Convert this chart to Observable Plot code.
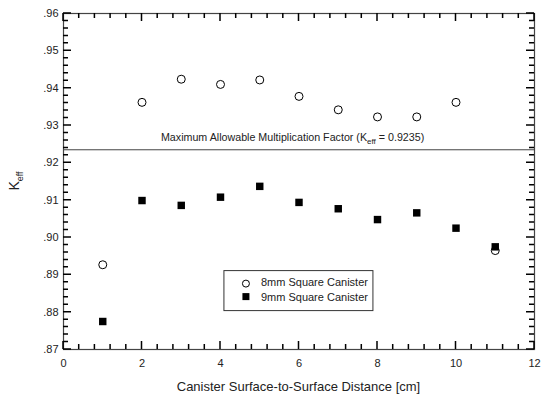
<!DOCTYPE html>
<html><head><meta charset="utf-8">
<script src="https://cdn.jsdelivr.net/npm/d3@7"></script>
<script src="https://cdn.jsdelivr.net/npm/@observablehq/plot@0.6"></script>
<style>body{margin:0;background:#fff;font-family:"Liberation Sans",Arial,sans-serif}</style>
</head><body><div id="chart"></div>
<script>
const distance = [1,2,3,4,5,6,7,8,9,10,11];
const keff8mm = [0.8927,0.9362,0.9424,0.9410,0.9422,0.9378,0.9342,0.9323,0.9323,0.9362,0.8965];
const keff9mm = [0.8775,0.9099,0.9086,0.9108,0.9137,0.9094,0.9077,0.9048,0.9066,0.9025,0.8975];
const seriesNames = ["8mm Square Canister","9mm Square Canister"];
const limitValue = 0.9235;
const xTicks = [0,2,4,6,8,10,12];
const yTicks = [0.87,0.88,0.89,0.90,0.91,0.92,0.93,0.94,0.95,0.96];

const W=545,H=401,mt=13,mb=52,ml=63,mr=11;
const ih=H-mt-mb, iw=W-ml-mr;
const xMinor = d3.range(0,12.0001,0.4).filter(v=>Math.abs(v/2-Math.round(v/2))>1e-6);
const yMinor = d3.range(0.87,0.96001,0.002).filter(v=>Math.abs(v*100-Math.round(v*100))>1e-6);

const d8 = distance.map((x,i)=>({x,y:keff8mm[i]}));
const d9 = distance.map((x,i)=>({x,y:keff9mm[i]}));
const fmtY = d=>d3.format(".2f")(d).replace(/^0/,"");

const plot = Plot.plot({
  width:W,height:H,marginTop:mt,marginBottom:mb,marginLeft:ml,marginRight:mr,
  style:{fontFamily:"Liberation Sans, Arial, sans-serif",fontSize:"11px",color:"#222",background:"#fff"},
  x:{domain:[0,12]},
  y:{domain:[0.87,0.96]},
  marks:[
    Plot.axisX(xTicks,{tickSize:0,tickPadding:10,fontSize:11,label:null}),
    Plot.axisY(yTicks,{tickSize:0,tickPadding:5,fontSize:11,tickFormat:fmtY,label:null}),
    Plot.ruleY([limitValue],{stroke:"#444",strokeWidth:1}),
    Plot.dot(d8,{x:"x",y:"y",r:4,stroke:"#000",fill:"#fff",strokeWidth:1}),
    Plot.dot(d9,{x:"x",y:"y",symbol:"square",r:4.2,fill:"#000",stroke:"none"}),
    Plot.frame({stroke:"#444",strokeWidth:1.2})
  ]
});
document.getElementById("chart").appendChild(plot);

const svg=d3.select(plot);
const sx=plot.scale("x"), sy=plot.scale("y");
// inward ticks on all four sides
const X0=ml, X1=W-mr, Y0=mt, Y1=H-mb;
let dpath="";
for (const [vals,len] of [[xTicks,8],[xMinor,5]]) for (const v of vals) {
  const px=sx.apply(v);
  dpath+=`M${px},${Y1}V${Y1-len}M${px},${Y0}V${Y0+len}`;
}
for (const [vals,len] of [[yTicks,8],[yMinor,5]]) for (const v of vals) {
  const py=sy.apply(v);
  dpath+=`M${X0},${py}H${X0+len}M${X1},${py}H${X1-len}`;
}
svg.append("path").attr("d",dpath).attr("fill","none").attr("stroke","#000").attr("stroke-width",1.5);
// x axis label
svg.append("text").attr("x",ml+iw/2).attr("y",H-10).attr("text-anchor","middle")
  .attr("font-size",13).attr("fill","#222").text("Canister Surface-to-Surface Distance [cm]");
// y axis label
const yl=svg.append("text").attr("transform",`translate(19,${mt+ih/2}) rotate(-90)`)
  .attr("text-anchor","middle").attr("font-size",14).attr("fill","#222");
yl.append("tspan").text("K");
yl.append("tspan").attr("font-size",9).attr("dy",4).text("eff");
// limit label
const ll=svg.append("text").attr("x",sx.apply(5.85)).attr("y",sy.apply(limitValue)-8)
  .attr("text-anchor","middle").attr("font-size",10.7).attr("fill","#222");
ll.append("tspan").text("Maximum Allowable Multiplication Factor (K");
ll.append("tspan").attr("font-size",8).attr("dy",3).text("eff");
ll.append("tspan").attr("dy",-3).text(" = "+limitValue+")");
// legend
const lg=svg.append("g").attr("transform",`translate(${sx.apply(4.1)},${sy.apply(0.891)})`)
  .attr("text-anchor","start");
lg.append("rect").attr("width",149).attr("height",40).attr("fill","#fff").attr("stroke","#333");
lg.append("circle").attr("cx",22).attr("cy",13).attr("r",3.5).attr("fill","#fff").attr("stroke","#000");
lg.append("rect").attr("x",18.5).attr("y",22.5).attr("width",7).attr("height",7).attr("fill","#000");
lg.append("text").attr("x",37).attr("y",15.5).attr("font-size",11).attr("fill","#222").text(seriesNames[0]);
lg.append("text").attr("x",37).attr("y",30).attr("font-size",11).attr("fill","#222").text(seriesNames[1]);
</script></body></html>
